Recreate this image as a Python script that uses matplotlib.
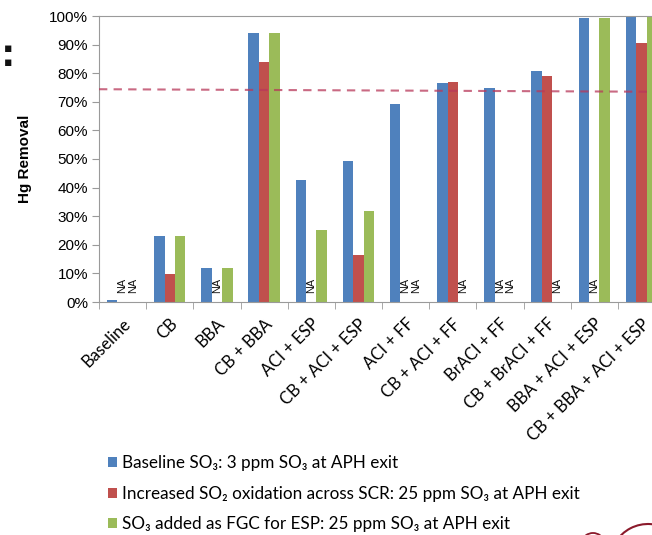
import matplotlib

matplotlib.use("Agg")

import matplotlib.pyplot as plt
import numpy as np
from matplotlib.patches import Arc


# ==================================================
# DATA
# ==================================================

categories = [
    "Baseline", "CB", "BBA", "CB + BBA", "ACI + ESP", "CB + ACI + ESP",
    "ACI + FF", "CB + ACI + FF", "BrACI + FF", "CB + BrACI + FF",
    "BBA + ACI + ESP", "CB + BBA + ACI + ESP",
]

# Hg removal fractions, nan = not available (NA)
baseline_so3 = [0.008, 0.232, 0.12, 0.941, 0.428, 0.492, 0.692, 0.765, 0.747, 0.808, 0.993, 1.0]
scr_so3 = [np.nan, 0.099, np.nan, 0.839, np.nan, 0.163, np.nan, 0.769, np.nan, 0.790, np.nan, 0.904]
fgc_so3 = [np.nan, 0.232, 0.12, 0.941, 0.251, 0.318, np.nan, np.nan, np.nan, np.nan, 0.993, 1.0]

series_labels = [
    "Baseline SO\u2083: 3 ppm SO\u2083 at APH exit",
    "Increased SO\u2082 oxidation across SCR: 25 ppm SO\u2083 at APH exit",
    "SO\u2083 added as FGC for ESP: 25 ppm SO\u2083 at APH exit",
]
series_colors = ["#4F81BD", "#C0504D", "#9BBB59"]

# reference level drawn as dashed line
ref_level = [0.744, 0.735]

y_ticks = [0, 0.1, 0.2, 0.3, 0.4, 0.5, 0.6, 0.7, 0.8, 0.9, 1.0]
y_tick_labels = ["0%", "10%", "20%", "30%", "40%", "50%", "60%", "70%", "80%", "90%", "100%"]


# ==================================================
# FIGURE
# ==================================================

W, H = 652, 535
fig = plt.figure(figsize=(W / 100, H / 100), dpi=100)

# axes run past the right edge of the figure
ax = fig.add_axes([99 / W, 1 - 302 / H, 566 / W, 286 / H])

x = np.arange(len(categories))
bar_w = 0.222

for i, (vals, color) in enumerate(zip([baseline_so3, scr_so3, fgc_so3], series_colors)):
    xpos = x + (i - 1) * bar_w
    vals = np.array(vals, dtype=float)
    ax.bar(
        xpos,
        np.nan_to_num(vals),
        width=bar_w,
        color=color,
        edgecolor="none",
        label=series_labels[i],
        zorder=2
    )
    for xp, v in zip(xpos, vals):
        if np.isnan(v):
            ax.text(
                xp, 0.033, "NA",
                rotation=90,
                ha="center",
                va="bottom",
                fontsize=7.8,
                family="Liberation Sans",
                color="#111111"
            )

ax.plot(
    [-0.5, 11.5],
    ref_level,
    linestyle=(0, (4, 3)),
    color="#b8385a",
    linewidth=1.5,
    alpha=0.75,
    zorder=3
)

ax.set_xlim(-0.5, 11.5)
ax.set_ylim(0, 1.0)

ax.set_yticks(y_ticks)
ax.set_yticklabels(y_tick_labels, fontsize=11, family="Liberation Sans")

ax.set_xticks(x)
ax.set_xticklabels(
    categories,
    rotation=45,
    ha="right",
    rotation_mode="anchor",
    fontsize=12,
    family="Lato"
)
ax.set_xticks(np.arange(-0.5, 12, 1), minor=True)
ax.tick_params(axis="x", which="major", length=0, pad=10)
ax.tick_params(axis="x", which="minor", length=5, color="#9a9a9a")
ax.tick_params(axis="y", length=5, color="#9a9a9a", pad=3)

for side in ["left", "bottom", "top"]:
    ax.spines[side].set_color("#9a9a9a")
ax.spines["right"].set_visible(False)

ax.set_ylabel(
    "Hg Removal",
    fontsize=11,
    fontweight="bold",
    family="Liberation Sans",
    labelpad=12
)

# legend under the chart
fig.legend(
    loc="upper left",
    bbox_to_anchor=(93 / W, 1 - 440 / H),
    frameon=False,
    handlelength=0.5,
    handleheight=0.5,
    handletextpad=0.3,
    labelspacing=0.84,
    prop={"family": ["Lato", "DejaVu Sans"], "size": 12.3}
)

# stray bullets on the left margin
for yy in [48, 62]:
    fig.text(4 / W, 1 - yy / H, "\u25aa", fontsize=9, ha="left", va="center", color="#111111")

# corner logo stroke
fig.add_artist(Arc((648 / W, 1 - 562 / H), 76 / W, 76 / H, theta1=60, theta2=180,
                   transform=fig.transFigure, color="#8b1a2b", linewidth=1.5))
fig.add_artist(Arc((593 / W, 1 - 545 / H), 24 / W, 24 / H, theta1=20, theta2=160,
                   transform=fig.transFigure, color="#8b1a2b", linewidth=1.3))

fig.savefig("out.png", dpi=100)
plt.close(fig)
